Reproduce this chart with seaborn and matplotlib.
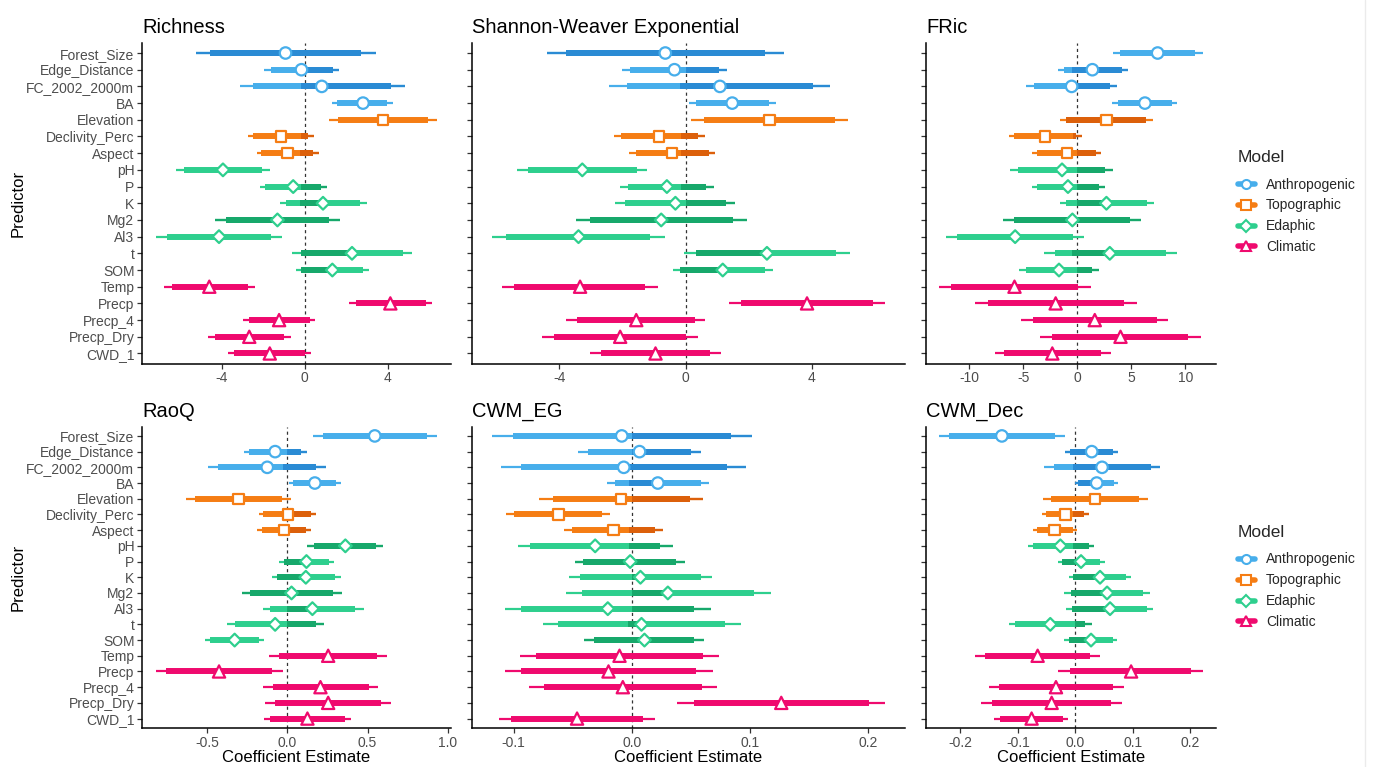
import numpy as np
import pandas as pd
import matplotlib
matplotlib.use("Agg")
import matplotlib.pyplot as plt
from matplotlib.lines import Line2D
import seaborn as sns

# ---- data ----
predictors = ['Forest_Size', 'Edge_Distance', 'FC_2002_2000m', 'BA', 'Elevation',
              'Declivity_Perc', 'Aspect', 'pH', 'P', 'K', 'Mg2', 'Al3', 't', 'SOM',
              'Temp', 'Precp', 'Precp_4', 'Precp_Dry', 'CWD_1']
model_of = ['Anthropogenic'] * 4 + ['Topographic'] * 3 + ['Edaphic'] * 7 + ['Climatic'] * 5
models = ['Anthropogenic', 'Topographic', 'Edaphic', 'Climatic']
W = (-np.inf, np.inf)

richness_est = [-0.93, -0.16, 0.82, 2.81, 3.78, -1.16, -0.84, -3.95, -0.56, 0.88, -1.32, -4.14, 2.28, 1.33, -4.61, 4.13, -1.24, -2.68, -1.69]
richness_lo = [-5.25, -1.96, -3.13, 1.33, 1.17, -2.73, -2.33, -6.23, -2.17, -1.20, -4.34, -7.18, -0.63, -0.43, -6.80, 2.12, -2.97, -4.66, -3.73]
richness_hi = [3.42, 1.65, 4.82, 4.26, 6.38, 0.43, 0.67, -1.69, 1.08, 3.00, 1.69, -1.12, 5.19, 3.10, -2.39, 6.15, 0.50, -0.67, 0.32]
richness_lo50 = [-4.58, -1.65, -2.49, 1.56, 1.61, -2.49, -2.09, -5.83, -1.93, -0.92, -3.81, -6.67, -0.16, -0.16, -6.43, 2.46, -2.71, -4.34, -3.41]
richness_hi50 = [2.73, 1.37, 4.18, 3.98, 5.94, 0.16, 0.40, -2.06, 0.80, 2.65, 1.17, -1.61, 4.74, 2.81, -2.76, 5.83, 0.24, -1.00, 0.0]
richness_dark = [W, (0, 1.65), (-0.16, 4.82), None, None, (-0.16, 0.43), (-0.24, 0.67), None, (-0.16, 1.08), (-0.24, 0.8), W, None, (-0.16, 2.28), (-0.16, 1.33), None, None, None, None, None]

shannon_est = [-0.64, -0.35, 1.09, 1.48, 2.66, -0.84, -0.42, -3.27, -0.59, -0.32, -0.77, -3.39, 2.58, 1.18, -3.34, 3.85, -1.56, -2.07, -0.95]
shannon_lo = [-4.39, -2.02, -2.41, 0.11, 0.18, -2.28, -1.80, -5.33, -2.07, -2.23, -3.48, -6.14, -0.05, -0.40, -5.81, 1.37, -3.78, -4.55, -3.02]
shannon_hi = [3.12, 1.33, 4.58, 2.87, 5.14, 0.62, 0.95, -1.21, 0.89, 1.58, 1.95, -0.65, 5.22, 2.77, -0.88, 6.33, 0.63, 0.39, 1.13]
shannon_lo50 = [-3.78, -1.75, -1.86, 0.34, 0.58, -2.04, -1.58, -5.00, -1.83, -1.93, -3.04, -5.70, 0.34, -0.16, -5.42, 1.76, -3.43, -4.15, -2.69]
shannon_hi50 = [2.52, 1.06, 4.03, 2.64, 4.75, 0.39, 0.74, -1.54, 0.65, 1.29, 1.52, -1.11, 4.77, 2.52, -1.27, 5.93, 0.29, 0.0, 0.79]
shannon_dark = [W, (0, 1.33), (-0.19, 4.58), None, None, (-0.14, 0.62), (-0.14, 0.95), None, (-0.14, 0.89), (0, 1.58), W, None, (0.34, 2.58), (-0.16, 1.18), None, None, None, None, None]

fric_est = [7.43, 1.39, -0.53, 6.25, 2.69, -2.97, -0.96, -1.42, -0.87, 2.69, -0.46, -5.76, 3.00, -1.70, -5.82, -2.01, 1.61, 3.99, -2.32]
fric_lo = [3.31, -1.80, -4.74, 3.22, -1.64, -6.35, -4.18, -6.19, -4.21, -1.64, -6.84, -12.17, -3.13, -5.36, -12.79, -9.44, -5.26, -3.44, -7.62]
fric_hi = [11.61, 4.64, 3.68, 9.26, 7.03, 0.43, 2.20, 3.31, 2.54, 7.09, 5.85, 0.59, 9.20, 1.98, 1.24, 5.48, 8.42, 11.46, 3.07]
fric_lo50 = [3.93, -1.27, -4.06, 3.78, -1.02, -5.82, -3.72, -5.51, -3.75, -1.02, -5.82, -11.18, -2.11, -4.74, -11.70, -8.30, -4.12, -2.32, -6.81]
fric_hi50 = [10.90, 4.09, 3.00, 8.73, 6.35, -0.09, 1.70, 2.60, 2.01, 6.41, 4.86, -0.40, 8.17, 1.39, 0.06, 4.30, 7.34, 10.28, 2.23]
fric_dark = [None, (-0.5, 4.64), (0, 3.68), None, (-1.02, 6.35), (-0.4, 0.43), (0, 2.2), (0, 3.31), (0, 2.54), (0, 2.69), W, None, (-0.46, 3.0), (0, 1.98), None, None, None, None, None]

raoq_est = [0.545, -0.075, -0.124, 0.172, -0.304, 0.004, -0.019, 0.362, 0.120, 0.116, 0.027, 0.157, -0.075, -0.327, 0.255, -0.424, 0.207, 0.255, 0.126]
raoq_lo = [0.161, -0.269, -0.491, 0.012, -0.631, -0.178, -0.186, 0.124, -0.050, -0.097, -0.280, -0.153, -0.377, -0.511, -0.112, -0.816, -0.149, -0.137, -0.145]
raoq_hi = [0.932, 0.124, 0.244, 0.337, 0.023, 0.182, 0.151, 0.596, 0.290, 0.335, 0.342, 0.476, 0.228, -0.145, 0.621, -0.029, 0.567, 0.644, 0.400]
raoq_lo50 = [0.224, -0.236, -0.429, 0.037, -0.573, -0.149, -0.157, 0.166, -0.021, -0.062, -0.232, -0.104, -0.325, -0.480, -0.050, -0.754, -0.091, -0.075, -0.104]
raoq_hi50 = [0.870, 0.089, 0.182, 0.306, -0.031, 0.151, 0.120, 0.555, 0.261, 0.296, 0.286, 0.420, 0.178, -0.176, 0.561, -0.093, 0.509, 0.582, 0.358]
raoq_dark = [None, (0, 0.124), (-0.025, 0.244), None, None, (0, 0.182), (0, 0.151), W, (-0.021, 0.12), (-0.062, 0.116), W, (0, 0.157), (0, 0.228), None, None, None, None, None, None]

eg_est = [-0.0085, 0.0065, -0.0068, 0.0220, -0.0090, -0.0621, -0.0155, -0.0310, -0.0014, 0.0073, 0.0305, -0.0203, 0.0082, 0.0107, -0.0104, -0.0197, -0.0076, 0.1264, -0.0463]
eg_lo = [-0.1185, -0.0457, -0.1103, -0.0209, -0.0781, -0.1063, -0.0570, -0.0962, -0.0482, -0.0533, -0.0556, -0.1072, -0.0753, -0.0401, -0.0942, -0.1072, -0.0872, 0.0384, -0.1126]
eg_hi = [0.1018, 0.0587, 0.0968, 0.0652, 0.0601, -0.0181, 0.0262, 0.0347, 0.0451, 0.0680, 0.1173, 0.0666, 0.0920, 0.0609, 0.0736, 0.0685, 0.0719, 0.2144, 0.0200]
eg_lo50 = [-0.1007, -0.0367, -0.0937, -0.0141, -0.0669, -0.0993, -0.0505, -0.0860, -0.0409, -0.0437, -0.0420, -0.0937, -0.0621, -0.0322, -0.0810, -0.0937, -0.0745, 0.0525, -0.1021]
eg_hi50 = [0.0841, 0.0502, 0.0804, 0.0581, 0.0488, -0.0251, 0.0197, 0.0240, 0.0375, 0.0587, 0.1030, 0.0530, 0.0784, 0.0530, 0.0606, 0.0544, 0.0592, 0.2003, 0.0093]
eg_dark = [(0, 0.1018), (0, 0.0587), (-0.002, 0.0968), (-0.002, 0.022), (0, 0.0601), None, (-0.002, 0.0262), (-0.002, 0.0347), W, (0, 0.0073), (0, 0.0305), (0, 0.0666), (-0.003, 0.0082), W, None, None, None, None, None]

dec_est = [-0.1278, 0.0285, 0.0465, 0.0372, 0.0343, -0.0174, -0.0366, -0.0261, 0.0099, 0.0430, 0.0552, 0.0604, -0.0436, 0.0273, -0.0656, 0.0970, -0.0337, -0.0412, -0.0761]
dec_lo = [-0.2369, -0.0174, -0.0540, 0.0, -0.0569, -0.0581, -0.0743, -0.0819, -0.0308, -0.0105, -0.0203, -0.0163, -0.1161, -0.0192, -0.1742, -0.0296, -0.1510, -0.1643, -0.1411]
dec_hi = [-0.0180, 0.0749, 0.1481, 0.0738, 0.1260, 0.0244, 0.0023, 0.0319, 0.0517, 0.0970, 0.1301, 0.1359, 0.0290, 0.0726, 0.0430, 0.2218, 0.0842, 0.0813, -0.0122]
dec_lo50 = [-0.2195, -0.0093, -0.0377, 0.0052, -0.0424, -0.0511, -0.0674, -0.0732, -0.0232, -0.0035, -0.0075, -0.0058, -0.1045, -0.0105, -0.1568, -0.0093, -0.1324, -0.1452, -0.1312]
dec_hi50 = [-0.0354, 0.0650, 0.1318, 0.0679, 0.1103, 0.0157, -0.0046, 0.0232, 0.0436, 0.0883, 0.1173, 0.1243, 0.0174, 0.0650, 0.0256, 0.2015, 0.0650, 0.0621, -0.0221]
dec_dark = [None, W, (-0.004, 0.148), (0, 0.0372), None, (-0.004, 0.0244), None, (-0.004, 0.0319), (-0.023, 0.0099), (-0.0035, 0.043), (-0.0075, 0.0552), (-0.0058, 0.0604), (0, 0.029), (-0.0105, 0.0273), None, None, None, None, None]

panels = [
    ('Richness', richness_est, richness_lo, richness_hi, richness_lo50, richness_hi50, richness_dark,
     [-4, 0, 4], ['-4', '0', '4']),
    ('Shannon-Weaver Exponential', shannon_est, shannon_lo, shannon_hi, shannon_lo50, shannon_hi50, shannon_dark,
     [-4, 0, 4], ['-4', '0', '4']),
    ('FRic', fric_est, fric_lo, fric_hi, fric_lo50, fric_hi50, fric_dark,
     [-10, -5, 0, 5, 10], ['-10', '-5', '0', '5', '10']),
    ('RaoQ', raoq_est, raoq_lo, raoq_hi, raoq_lo50, raoq_hi50, raoq_dark,
     [-0.5, 0, 0.5, 1.0], ['-0.5', '0.0', '0.5', '1.0']),
    ('CWM_EG', eg_est, eg_lo, eg_hi, eg_lo50, eg_hi50, eg_dark,
     [-0.1, 0, 0.1, 0.2], ['-0.1', '0.0', '0.1', '0.2']),
    ('CWM_Dec', dec_est, dec_lo, dec_hi, dec_lo50, dec_hi50, dec_dark,
     [-0.2, -0.1, 0, 0.1, 0.2], ['-0.2', '-0.1', '0.0', '0.1', '0.2']),
]

light = {'Anthropogenic': '#47AEEB', 'Topographic': '#F57D14', 'Edaphic': '#2ECF8E', 'Climatic': '#EF0A6E'}
dark = {'Anthropogenic': '#2A8BD4', 'Topographic': '#DC600B', 'Edaphic': '#17A86B', 'Climatic': '#D8025F'}
markers = {'Anthropogenic': 'o', 'Topographic': 's', 'Edaphic': 'D', 'Climatic': '^'}
msize = {'Anthropogenic': 68, 'Topographic': 56, 'Edaphic': 42, 'Climatic': 78}

sns.set_theme(style="ticks")
plt.rcParams['font.family'] = ['Liberation Sans', 'DejaVu Sans']

FW, FH = 1375, 767
fig = plt.figure(figsize=(FW / 100, FH / 100), dpi=100)
fig.patch.set_facecolor('white')


def box(x0, y0, x1, y1):
    return [x0 / FW, 1 - y1 / FH, (x1 - x0) / FW, (y1 - y0) / FH]


rows_px = [(43, 363.5), (426.5, 728)]
cols_px = [(142, 451), (472, 905), (926, 1216)]
ypos = np.arange(len(predictors))

for i, (name, est, lo, hi, lo50, hi50, drk, ticks, ticklabels) in enumerate(panels):
    r, c = divmod(i, 3)
    ax = fig.add_axes(box(cols_px[c][0], rows_px[r][0], cols_px[c][1], rows_px[r][1]))
    df = pd.DataFrame({'Predictor': predictors, 'y': ypos, 'Model': model_of,
                       'est': est, 'lo': lo, 'hi': hi, 'lo50': lo50, 'hi50': hi50})

    ax.axvline(0, color='#333333', lw=0.9, ls=(0, (2.5, 2.5)), zorder=1)
    for m in models:
        sub = df[df['Model'] == m]
        ax.hlines(sub['y'], sub['lo'], sub['hi'], color=light[m], lw=1.6, capstyle='butt', zorder=2)
        ax.hlines(sub['y'], sub['lo50'], sub['hi50'], color=light[m], lw=4.3, capstyle='butt', zorder=2)

    # darker overlapping stretches
    for k, rng in enumerate(drk):
        if rng is None:
            continue
        m = model_of[k]
        a, b = max(lo[k], rng[0]), min(hi[k], rng[1])
        if a < b:
            ax.hlines(k, a, b, color=dark[m], lw=1.6, capstyle='butt', zorder=3)
        a, b = max(lo50[k], rng[0]), min(hi50[k], rng[1])
        if a < b:
            ax.hlines(k, a, b, color=dark[m], lw=4.3, capstyle='butt', zorder=3)

    sns.scatterplot(data=df, x='est', y='y', hue='Model', style='Model', palette=light,
                    markers=markers, s=70, legend=False, ax=ax)
    coll = ax.collections[-1]
    fcs = coll.get_facecolors()
    coll.set_edgecolors(fcs)
    coll.set_facecolors('white')
    coll.set_linewidths(1.6)
    coll.set_sizes(df['Model'].map(msize).to_numpy())
    coll.set_zorder(5)

    lo_all, hi_all = min(lo), max(hi)
    pad = 0.05 * (hi_all - lo_all)
    ax.set_xlim(lo_all - pad, hi_all + pad)
    ax.set_ylim(len(predictors) - 0.4, -0.6)
    ax.set_xticks(ticks)
    ax.set_xticklabels(ticklabels)
    ax.set_yticks(ypos)
    if c == 0:
        ax.set_yticklabels(predictors)
    else:
        ax.set_yticklabels([])
    ax.set_xlabel('')
    ax.set_ylabel('')
    ax.tick_params(axis='both', length=3.5, width=0.9, color='#333333',
                   labelsize=10, labelcolor='#4D4D4D', pad=2)
    for sp in ['top', 'right']:
        ax.spines[sp].set_visible(False)
    for sp in ['left', 'bottom']:
        ax.spines[sp].set_linewidth(1.1)
        ax.spines[sp].set_color('black')
    ax.set_facecolor('white')
    ax.set_title(name, loc='left', fontsize=14.5, pad=7, color='black')

    if r == 1:
        cx = (cols_px[c][0] + cols_px[c][1]) / 2
        fig.text(cx / FW, 1 - 758 / FH, 'Coefficient Estimate', ha='center', va='center',
                 fontsize=12, color='black')

for (y0, y1) in rows_px:
    fig.text(18 / FW, 1 - ((y0 + y1) / 2) / FH, 'Predictor', rotation=90,
             ha='center', va='center', fontsize=12, color='black')

handles = [Line2D([0], [0], color=light[m], lw=4, marker=markers[m], markersize=6.5,
                  markerfacecolor='white', markeredgecolor=light[m], markeredgewidth=1.5)
           for m in models]
for top in [150, 525]:
    leg = fig.legend(handles, models, title='Model', loc='upper left',
                     bbox_to_anchor=(1238 / FW, 1 - top / FH), frameon=False,
                     fontsize=10, title_fontsize=12.5, handlelength=1.2,
                     handletextpad=0.8, labelspacing=0.5, borderpad=0, borderaxespad=0,
                     alignment='left')
    leg._legend_box.sep = 9

# faint border line at the right edge of the original image
fig.add_artist(Line2D([1365 / FW, 1365 / FW], [0, 1], color='#EBEBEB', lw=1))

fig.savefig('out.png', dpi=100, facecolor='white')
